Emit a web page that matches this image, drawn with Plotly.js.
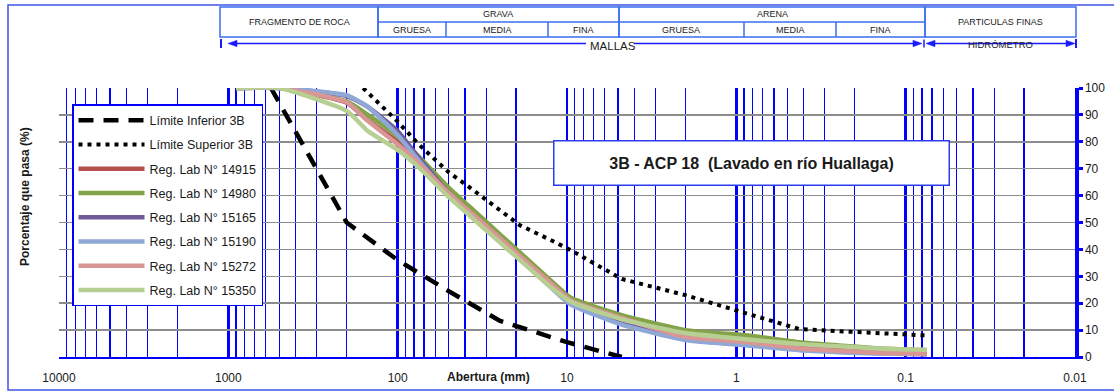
<!DOCTYPE html>
<html><head><meta charset="utf-8">
<script src="https://cdn.plot.ly/plotly-3.0.1.min.js"></script>
<style>html,body{margin:0;padding:0;background:#fff;}#chart{width:1114px;height:392px;}</style>
</head><body><div id="chart"></div>
<script>
// ---- data ----
const sizes = [900, 500, 200, 150, 100, 75, 50, 37.5, 25, 19, 12.5, 9.5, 4.75, 2.0, 0.85, 0.425, 0.25, 0.15, 0.075];
const limInfSizes = [560, 200, 100, 50, 25, 10, 4.75];
const limInfVals  = [100, 50, 36, 24.5, 13.5, 5.5, 0];
const limSupSizes = [160, 100, 75, 50, 37.5, 25, 19, 12.5, 9.5, 4.75, 2.0, 0.85, 0.425, 0.25, 0.15, 0.075];
const limSupVals  = [100, 87.5, 79, 68.7, 63, 54.5, 49, 43.5, 39.7, 29, 23, 16, 10.4, 9.6, 9, 8];
const s14915 = [100,100,94.5,88,80,72.5,62,54.9,45,38.2,28,21.5,14.5,8.2,6,4,3,2,1.5];
const s14980 = [100,100,95,90,82,74.5,63,55.8,45.7,38.9,28.5,22,15.6,10,8,5.5,4.3,3.3,2.5];
const s15165 = [100,100,97,93,84,74,61,53.8,43.7,36.9,26.5,20,12.6,6.5,4.5,3,2,1.5,1];
const s15190 = [100,100,97.3,93,82.5,73,60.5,53.3,43.2,36.4,26,19.5,12,6.3,4.3,2.5,1.8,1.3,1];
const s15272 = [100,100,94.7,87.8,79,72,61,54,44.3,37.6,27.5,21,14.5,7.5,5.5,3.2,2.3,1.6,1.2];
const s15350 = [100,100,91.5,84,77,70.5,59.5,52.5,42.7,36.1,26,20.5,14,8.9,6.5,4.8,4,3.2,2.7];
const seriesNames = ['Reg. Lab N° 14915','Reg. Lab N° 14980','Reg. Lab N° 15165','Reg. Lab N° 15190','Reg. Lab N° 15272','Reg. Lab N° 15350'];
const seriesVals = [s14915, s14980, s15165, s15190, s15272, s15350];
const seriesColors = ['#b5504d','#83a349','#705a9a','#90a8d6','#d99694','#b7cf92'];
const xTickVals = [10000, 1000, 100, 10, 1, 0.1, 0.01];
const xTickText = ['10000','1000','100','10','1','0.1','0.01'];

// ---- layout helpers (pixel -> paper) ----
const L = 59, R = 1075, T = 88, B = 357;
const px = x => (x - L) / (R - L);
const py = y => (B - y) / (B - T);
const FONT = 'Arial, "Liberation Sans", sans-serif';
const CELL = '#3a6ff0', ARR = '#1a1aff';

const traces = [];
traces.push({x: limInfSizes, y: limInfVals, type: 'scatter', mode: 'lines', name: 'Límite Inferior 3B',
  legendgroup: 'g0', line: {color: '#000', width: 4.5, dash: '15px,10px'}});
traces.push({x: limSupSizes, y: limSupVals, type: 'scatter', mode: 'lines', name: 'Límite Superior 3B',
  legendgroup: 'g1', line: {color: '#000', width: 4, dash: '4px,5px'}});
seriesVals.forEach((v, i) => traces.push({x: sizes, y: v, type: 'scatter', mode: 'lines', name: seriesNames[i],
  legendgroup: 'g' + (i + 2), line: {color: seriesColors[i], width: 4.5, shape: 'spline', smoothing: 0.5}}));

const shapes = [];
const rect = (x0, y0, x1, y1, c, w) => shapes.push({type: 'rect', xref: 'paper', yref: 'paper',
  x0: px(x0), x1: px(x1), y0: py(y0), y1: py(y1), line: {color: c, width: w}});
const seg = (x0, y0, x1, y1, c, w) => shapes.push({type: 'line', xref: 'paper', yref: 'paper',
  x0: px(x0), x1: px(x1), y0: py(y0), y1: py(y1), line: {color: c, width: w}});
const tri = (tx, ty, dir) => shapes.push({type: 'path', xref: 'paper', yref: 'paper',
  path: `M ${px(tx)},${py(ty)} L ${px(tx - dir * 9)},${py(ty - 3.2)} L ${px(tx - dir * 9)},${py(ty + 3.2)} Z`,
  fillcolor: ARR, line: {color: ARR, width: 0.5}});

// outer frame
rect(8, 5, 1130, 390, '#3f55e8', 1.5);
// header table
rect(220, 7, 378, 37, CELL, 1.5);
rect(378, 7, 619, 37, CELL, 1.5);
seg(378, 22, 619, 22, CELL, 1.5);
seg(446, 22, 446, 37, CELL, 1.5);
seg(548, 22, 548, 37, CELL, 1.5);
rect(619, 7, 925, 37, CELL, 1.5);
seg(619, 22, 925, 22, CELL, 1.5);
seg(744, 22, 744, 37, CELL, 1.5);
seg(836, 22, 836, 37, CELL, 1.5);
rect(925, 7, 1076, 37, CELL, 1.5);
// arrows row
const AY = 43.5;
seg(221, 39, 221, 48, ARR, 2);
tri(228, AY, -1);
seg(234, AY, 586, AY, ARR, 1.3);
seg(634, AY, 915, AY, ARR, 1.3);
tri(922, AY, 1);
seg(924, 39.5, 924, 47.5, ARR, 1.5);
tri(926, AY, -1);
seg(932, AY, 1069, AY, ARR, 1.3);
tri(1075, AY, 1);
seg(1076, 39, 1076, 48, ARR, 2);

const ann = [];
const txt = (t, x, y, size, extra) => ann.push(Object.assign({text: t, xref: 'paper', yref: 'paper',
  x: px(x), y: py(y), xanchor: 'center', yanchor: 'middle', showarrow: false,
  font: {family: FONT, size: size, color: '#1a1a1a'}}, extra || {}));
txt('FRAGMENTO DE ROCA', 299, 22, 9);
txt('GRAVA', 498, 14.5, 9);
txt('GRUESA', 412, 29.5, 9);
txt('MEDIA', 497, 29.5, 9);
txt('FINA', 583, 29.5, 9);
txt('ARENA', 772, 14.5, 9);
txt('GRUESA', 681, 29.5, 9);
txt('MEDIA', 790, 29.5, 9);
txt('FINA', 880, 29.5, 9);
txt('PARTICULAS FINAS', 1000, 22, 9);
txt('MALLAS', 613, 45.5, 11.5);
txt('HIDRÓMETRO', 1000, 44.5, 9.5);
txt('<b>Porcentaje que pasa (%)</b>', 25, 197, 12, {textangle: -90});
txt('<b>Abertura (mm)</b>', 488, 377, 12);
ann.push({text: '<b>3B - ACP 18 \u00a0(Lavado en río Huallaga)</b>', xref: 'paper', yref: 'paper',
  x: px(751.5), y: py(162.5), xanchor: 'center', yanchor: 'middle', showarrow: false,
  width: 392, height: 41, borderpad: 1, bordercolor: '#2a3cf0', borderwidth: 1.5, bgcolor: '#fff',
  font: {family: FONT, size: 16, color: '#1a1a1a'}});

const layout = {
  width: 1114, height: 392,
  margin: {l: L, r: 1114 - R, t: T, b: 392 - B, pad: 0},
  paper_bgcolor: '#fff', plot_bgcolor: '#fff',
  showlegend: true,
  legend: {x: px(72), y: py(104), xanchor: 'left', yanchor: 'top', bgcolor: '#fff',
    bordercolor: '#0000ff', borderwidth: 1.5, font: {family: FONT, size: 12.5, color: '#1a1a1a'},
    itemwidth: 66, tracegroupgap: 5, traceorder: 'grouped'},
  xaxis: {type: 'log', range: [4, -2], automargin: false,
    tickmode: 'array', tickvals: xTickVals, ticktext: xTickText, ticks: '', ticklabelstandoff: 9,
    tickfont: {family: FONT, size: 12, color: '#1a1a1a'},
    showgrid: true, gridcolor: '#0000ff', gridwidth: 2.5,
    minor: {dtick: 'D1', showgrid: true, gridcolor: '#0000ff', gridwidth: 1.2, ticks: ''},
    showline: true, linecolor: '#0000ff', linewidth: 1.5, zeroline: false, mirror: false},
  yaxis: {range: [0, 100], side: 'right', dtick: 10, automargin: false,
    tickfont: {family: FONT, size: 12, color: '#1a1a1a'},
    showgrid: true, gridcolor: '#8c8c8c', gridwidth: 1.5, zeroline: false,
    showline: true, linecolor: '#0000ff', linewidth: 3.5,
    ticks: 'outside', ticklen: 4, tickwidth: 3, tickcolor: '#0000ff'},
  shapes: shapes,
  annotations: ann
};
Plotly.newPlot('chart', traces, layout, {displayModeBar: false, staticPlot: true});
</script></body></html>
